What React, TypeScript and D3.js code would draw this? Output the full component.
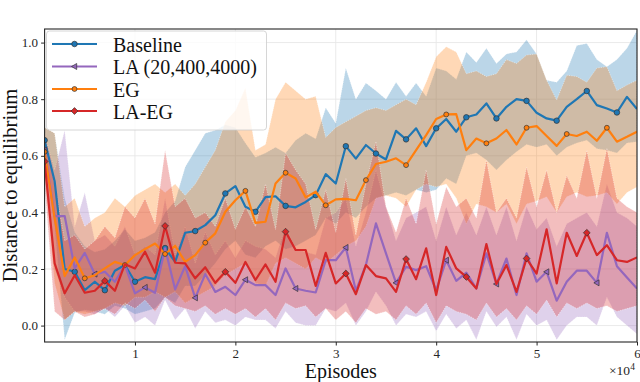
'use client';

import { useEffect, useRef } from "react";
import * as d3 from "d3";

// episodes 1000 .. 60000, one point per 1000
const episodes = d3.range(1000, 60001, 1000);

const baselineMean = [
  0.655, 0.51, 0.20, 0.19, 0.125, 0.155, 0.125, 0.194, 0.214, 0.155,
  0.171, 0.164, 0.274, 0.225, 0.328, 0.334, 0.355, 0.39, 0.467, 0.493,
  0.42, 0.402, 0.454, 0.457, 0.423, 0.418, 0.437, 0.461, 0.535, 0.502,
  0.634, 0.59, 0.638, 0.608, 0.587, 0.688, 0.658, 0.697, 0.634, 0.697,
  0.73, 0.685, 0.736, 0.746, 0.785, 0.732, 0.773, 0.80, 0.794, 0.752,
  0.732, 0.724, 0.773, 0.80, 0.829, 0.779, 0.767, 0.753, 0.808, 0.765];
const baselineLow = [
  0.60, 0.35, -0.05, 0.045, 0.055, 0.05, 0.04, 0.07, 0.06, 0.04,
  0.05, 0.06, 0.10, 0.08, 0.14, 0.14, 0.18, 0.22, 0.27, 0.30,
  0.25, 0.24, 0.28, 0.30, 0.27, 0.28, 0.30, 0.32, 0.38, 0.36,
  0.40, 0.38, 0.42, 0.45, 0.46, 0.47, 0.46, 0.48, 0.47, 0.48,
  0.52, 0.50, 0.60, 0.61, 0.585, 0.55, 0.585, 0.614, 0.64, 0.63,
  0.64, 0.60, 0.63, 0.645, 0.655, 0.625, 0.62, 0.61, 0.645, 0.65];
const baselineHigh = [
  0.70, 0.68, 0.45, 0.33, 0.28, 0.26, 0.27, 0.30, 0.34, 0.30,
  0.31, 0.33, 0.40, 0.44, 0.56, 0.62, 0.68, 0.69, 0.71, 0.70,
  0.645, 0.595, 0.61, 0.63, 0.61, 0.655, 0.68, 0.66, 0.77, 0.715,
  0.91, 0.80, 0.857, 0.83, 0.80, 0.86, 0.81, 0.857, 0.81, 0.91,
  0.90, 0.87, 0.967, 0.93, 0.98, 0.926, 0.96, 0.967, 1.01, 0.96,
  0.867, 0.86, 0.90, 0.99, 0.997, 0.94, 0.915, 0.94, 0.98, 1.044];

const laMean = [
  0.62, 0.387, 0.387, 0.202, 0.257, 0.182, 0.19, 0.155, 0.214, 0.114,
  0.135, 0.116, 0.273, 0.128, 0.21, 0.098, 0.182, 0.119, 0.137, 0.108,
  0.162, 0.143, 0.143, 0.108, 0.202, 0.131, 0.123, 0.117, 0.231, 0.231,
  0.276, 0.123, 0.214, 0.361, 0.255, 0.151, 0.208, 0.196, 0.21, 0.125,
  0.231, 0.158, 0.187, 0.131, 0.255, 0.147, 0.237, 0.108, 0.255, 0.155,
  0.19, 0.088, 0.155, 0.194, 0.194, 0.151, 0.328, 0.21, 0.17, 0.131];
const laLow = [
  0.55, 0.20, 0.10, 0.05, 0.05, 0.04, 0.06, 0.03, 0.07, 0.01,
  0.03, 0.00, 0.09, 0.02, 0.06, -0.01, 0.05, 0.01, 0.02, 0.00,
  0.03, 0.02, 0.02, -0.01, 0.05, 0.01, 0.00, 0.00, 0.06, 0.05,
  0.08, 0.00, 0.05, 0.12, 0.07, 0.00, 0.04, 0.03, 0.05, -0.02,
  0.04, -0.01, 0.02, -0.05, 0.05, -0.005, 0.03, -0.05, 0.04, 0.0,
  0.02, -0.05, 0.0, 0.03, 0.03, 0.0, 0.10, 0.03, 0.0, -0.03];
const laHigh = [
  0.68, 0.55, 0.69, 0.35, 0.47, 0.30, 0.32, 0.28, 0.35, 0.25,
  0.28, 0.25, 0.45, 0.25, 0.35, 0.22, 0.33, 0.25, 0.30, 0.24,
  0.30, 0.28, 0.27, 0.24, 0.35, 0.27, 0.26, 0.25, 0.38, 0.40,
  0.45, 0.28, 0.40, 0.55, 0.42, 0.30, 0.38, 0.40, 0.42, 0.30,
  0.42, 0.32, 0.40, 0.32, 0.42, 0.32, 0.42, 0.30, 0.42, 0.34,
  0.38, 0.28, 0.36, 0.38, 0.40, 0.35, 0.50, 0.40, 0.38, 0.35];

const egMean = [
  0.614, 0.38, 0.175, 0.241, 0.167, 0.178, 0.202, 0.225, 0.214, 0.249,
  0.27, 0.29, 0.253, 0.282, 0.225, 0.249, 0.293, 0.326, 0.402, 0.443,
  0.476, 0.363, 0.367, 0.502, 0.54, 0.52, 0.453, 0.473, 0.425, 0.446,
  0.448, 0.443, 0.514, 0.571, 0.579, 0.591, 0.567, 0.62, 0.673, 0.73,
  0.746, 0.747, 0.62, 0.661, 0.644, 0.661, 0.691, 0.64, 0.699, 0.705,
  0.67, 0.635, 0.677, 0.67, 0.685, 0.653, 0.699, 0.65, 0.667, 0.685];
const egLow = [
  0.55, 0.15, 0.02, 0.05, 0.04, 0.05, 0.06, 0.08, 0.07, 0.10,
  0.10, 0.12, 0.10, 0.12, 0.08, 0.10, 0.12, 0.14, 0.18, 0.20,
  0.22, 0.15, 0.14, 0.22, 0.24, 0.22, 0.20, 0.24, 0.22, 0.25,
  0.28, 0.30, 0.35, 0.45, 0.46, 0.45, 0.42, 0.48, 0.50, 0.49,
  0.50, 0.45, 0.36, 0.43, 0.42, 0.40, 0.43, 0.36, 0.43, 0.44,
  0.455, 0.40, 0.455, 0.47, 0.455, 0.46, 0.47, 0.43, 0.47, 0.49];
const egHigh = [
  0.70, 0.68, 0.42, 0.45, 0.35, 0.38, 0.40, 0.45, 0.42, 0.46,
  0.48, 0.50, 0.47, 0.50, 0.46, 0.50, 0.56, 0.62, 0.72, 0.76,
  0.84, 0.62, 0.64, 0.80, 0.86, 0.83, 0.80, 0.81, 0.665, 0.70,
  0.72, 0.74, 0.76, 0.77, 0.76, 0.78, 0.80, 0.78, 0.86, 0.95,
  0.985, 0.967, 0.89, 0.90, 0.88, 0.89, 0.94, 0.926, 0.956, 0.96,
  0.867, 0.797, 0.885, 0.88, 0.86, 0.91, 0.915, 0.83, 0.85, 0.867];

const laegMean = [
  0.58, 0.22, 0.114, 0.178, 0.116, 0.123, 0.158, 0.123, 0.217, 0.202,
  0.261, 0.187, 0.352, 0.222, 0.22, 0.167, 0.206, 0.151, 0.19, 0.151,
  0.225, 0.161, 0.216, 0.155, 0.332, 0.267, 0.267, 0.14, 0.257, 0.149,
  0.184, 0.111, 0.214, 0.175, 0.167, 0.119, 0.235, 0.164, 0.273, 0.108,
  0.278, 0.202, 0.172, 0.131, 0.288, 0.147, 0.214, 0.119, 0.237, 0.184,
  0.34, 0.149, 0.328, 0.246, 0.328, 0.249, 0.284, 0.231, 0.225, 0.241];
const laegLow = [
  0.50, 0.05, 0.02, 0.05, 0.03, 0.04, 0.06, 0.04, 0.08, 0.06,
  0.09, 0.05, 0.10, 0.07, 0.06, 0.05, 0.07, 0.04, 0.06, 0.04,
  0.06, 0.03, 0.06, 0.02, 0.08, 0.06, 0.07, 0.03, 0.06, 0.02,
  0.05, 0.01, 0.06, 0.04, 0.05, 0.02, 0.07, 0.04, 0.08, 0.01,
  0.07, 0.05, 0.04, 0.02, 0.08, 0.03, 0.06, 0.02, 0.07, 0.04,
  0.09, 0.03, 0.08, 0.06, 0.08, 0.06, 0.07, 0.05, 0.06, 0.07];
const laegHigh = [
  0.68, 0.50, 0.30, 0.32, 0.27, 0.30, 0.35, 0.31, 0.42, 0.38,
  0.45, 0.36, 0.62, 0.42, 0.45, 0.38, 0.40, 0.35, 0.45, 0.34,
  0.42, 0.35, 0.50, 0.34, 0.61, 0.55, 0.50, 0.34, 0.48, 0.33,
  0.52, 0.32, 0.50, 0.65, 0.42, 0.33, 0.45, 0.36, 0.55, 0.36,
  0.49, 0.42, 0.45, 0.38, 0.585, 0.40, 0.45, 0.38, 0.56, 0.42,
  0.55, 0.40, 0.53, 0.45, 0.62, 0.45, 0.627, 0.45, 0.42, 0.40];

const seriesNames = ["Baseline", "LA (20,400,4000)", "EG", "LA-EG"];
const seriesColors = ["#1f77b4", "#9467bd", "#ff7f0e", "#d62728"];
const seriesMarkers = ["circle", "triangle", "smallcircle", "diamond"];
const seriesMarkEvery = [3, 5, 4, 6];
const seriesMeans = [baselineMean, laMean, egMean, laegMean];
const seriesLows = [baselineLow, laLow, egLow, laegLow];
const seriesHighs = [baselineHigh, laHigh, egHigh, laegHigh];

const xTicks = [10000, 20000, 30000, 40000, 50000, 60000];
const xTickLabels = ["1", "2", "3", "4", "5", "6"];
const yTicks = [0, 0.2, 0.4, 0.6, 0.8, 1.0];
const yTickLabels = ["0.0", "0.2", "0.4", "0.6", "0.8", "1.0"];

const W = 640, H = 382;
const left = 44.6, right = 637, top = 29, bottom = 342;
const serif = "'Liberation Serif', 'DejaVu Serif', serif";
const ink = "#262626";

function markerPath(kind: string) {
  if (kind === "circle") return d3.symbol(d3.symbolCircle, 24)();
  if (kind === "smallcircle") return d3.symbol(d3.symbolCircle, 19)();
  if (kind === "diamond") return "M0,-3.4L3.4,0L0,3.4L-3.4,0Z";
  return "M-3,0L2.2,-3L2.2,3Z"; // triangle pointing left
}

export default function App() {
  const ref = useRef<SVGSVGElement>(null);

  useEffect(() => {
    const svg = d3.select(ref.current);
    svg.selectAll("*").remove();

    const x = d3.scaleLinear().domain([1000, 60000]).range([left, right]);
    const y = d3.scaleLinear().domain([-0.058, 1.048]).range([bottom, top]);

    svg.append("clipPath").attr("id", "plot-clip")
      .append("rect")
      .attr("x", left).attr("y", top)
      .attr("width", right - left).attr("height", bottom - top);

    // grid
    const grid = svg.append("g");
    grid.selectAll(".gy").data(yTicks).join("line")
      .attr("x1", left).attr("x2", right)
      .attr("y1", d => y(d)).attr("y2", d => y(d))
      .attr("stroke", "#e8e8e8").attr("stroke-width", 0.9);
    grid.selectAll(".gx").data(xTicks).join("line")
      .attr("x1", d => x(d)).attr("x2", d => x(d))
      .attr("y1", top).attr("y2", bottom)
      .attr("stroke", "#e8e8e8").attr("stroke-width", 0.9);

    // bands
    const bands = svg.append("g").attr("clip-path", "url(#plot-clip)");
    seriesNames.forEach((_, k) => {
      const lo = seriesLows[k], hi = seriesHighs[k];
      const area = d3.area<number>()
        .x((_, i) => x(episodes[i]))
        .y0((_, i) => y(lo[i]))
        .y1((_, i) => y(hi[i]));
      bands.append("path")
        .datum(seriesMeans[k])
        .attr("d", area)
        .attr("fill", seriesColors[k])
        .attr("fill-opacity", 0.3)
        .attr("stroke", "#ffffff")
        .attr("stroke-opacity", 0.55)
        .attr("stroke-width", 0.8)
        .attr("stroke-dasharray", "1.2,1.2");
    });

    // lines + markers
    const lines = svg.append("g").attr("clip-path", "url(#plot-clip)");
    seriesNames.forEach((_, k) => {
      const mean = seriesMeans[k];
      const line = d3.line<number>()
        .x((_, i) => x(episodes[i]))
        .y(d => y(d));
      lines.append("path")
        .datum(mean)
        .attr("d", line)
        .attr("fill", "none")
        .attr("stroke", seriesColors[k])
        .attr("stroke-width", 2.2)
        .attr("stroke-linejoin", "round");
      const idx = mean.map((_, i) => i).filter(i => i % seriesMarkEvery[k] === 0);
      lines.selectAll(null).data(idx).join("path")
        .attr("d", markerPath(seriesMarkers[k]))
        .attr("transform", i => `translate(${x(episodes[i])},${y(mean[i])})`)
        .attr("fill", seriesColors[k])
        .attr("stroke", "#333")
        .attr("stroke-width", 0.7);
    });

    // spines
    svg.append("rect")
      .attr("x", left).attr("y", top)
      .attr("width", right - left).attr("height", bottom - top)
      .attr("fill", "none").attr("stroke", ink).attr("stroke-width", 1.1);

    // axes
    const yAxis = d3.axisLeft(y).tickValues(yTicks)
      .tickFormat((_, i) => yTickLabels[i]).tickSize(3.5).tickPadding(3);
    const gy = svg.append("g").attr("transform", `translate(${left},0)`).call(yAxis);
    const xAxis = d3.axisBottom(x).tickValues(xTicks)
      .tickFormat((_, i) => xTickLabels[i]).tickSize(3.5).tickPadding(3);
    const gx = svg.append("g").attr("transform", `translate(0,${bottom})`).call(xAxis);
    [gx, gy].forEach(g => {
      g.select(".domain").remove();
      g.attr("font-family", serif).attr("font-size", 13);
      g.selectAll("line").attr("stroke", ink).attr("stroke-width", 1);
      g.selectAll("text").attr("fill", ink);
    });

    // offset text
    const off = svg.append("text")
      .attr("x", 609).attr("y", 375)
      .attr("font-family", serif).attr("font-size", 13.5).attr("fill", ink)
      .text("×10");
    off.append("tspan").attr("font-size", 9.5).attr("dy", -5).text("4");

    // axis labels
    svg.append("text")
      .attr("x", (left + right) / 2).attr("y", 378)
      .attr("text-anchor", "middle")
      .attr("font-family", serif).attr("font-size", 20).attr("fill", "#111")
      .text("Episodes");
    svg.append("text")
      .attr("transform", `translate(17,${(top + bottom) / 2}) rotate(-90)`)
      .attr("text-anchor", "middle")
      .attr("font-family", serif).attr("font-size", 20.5).attr("fill", "#111")
      .text("Distance to equilibrium");

    // legend
    const lg = svg.append("g");
    lg.append("rect")
      .attr("x", 46.5).attr("y", 31).attr("width", 220).attr("height", 99)
      .attr("rx", 3)
      .attr("fill", "#ffffff").attr("fill-opacity", 0.8)
      .attr("stroke", "#cccccc").attr("stroke-width", 0.8);
    const rowY = [44, 66.5, 89, 111];
    seriesNames.forEach((name, k) => {
      const ry = rowY[k];
      lg.append("line")
        .attr("x1", 52).attr("x2", 97).attr("y1", ry).attr("y2", ry)
        .attr("stroke", seriesColors[k]).attr("stroke-width", 2.2);
      lg.append("path")
        .attr("d", markerPath(seriesMarkers[k]))
        .attr("transform", `translate(74.5,${ry})`)
        .attr("fill", seriesColors[k]).attr("stroke", "#333").attr("stroke-width", 0.7);
      lg.append("text")
        .attr("x", 113).attr("y", ry + 7.5)
        .attr("font-family", serif).attr("font-size", 20).attr("fill", "#111")
        .text(name);
    });
  }, []);

  return (
    <svg ref={ref} width={W} height={H}
      style={{ position: "absolute", left: 0, top: 0, background: "#fff" }} />
  );
}
